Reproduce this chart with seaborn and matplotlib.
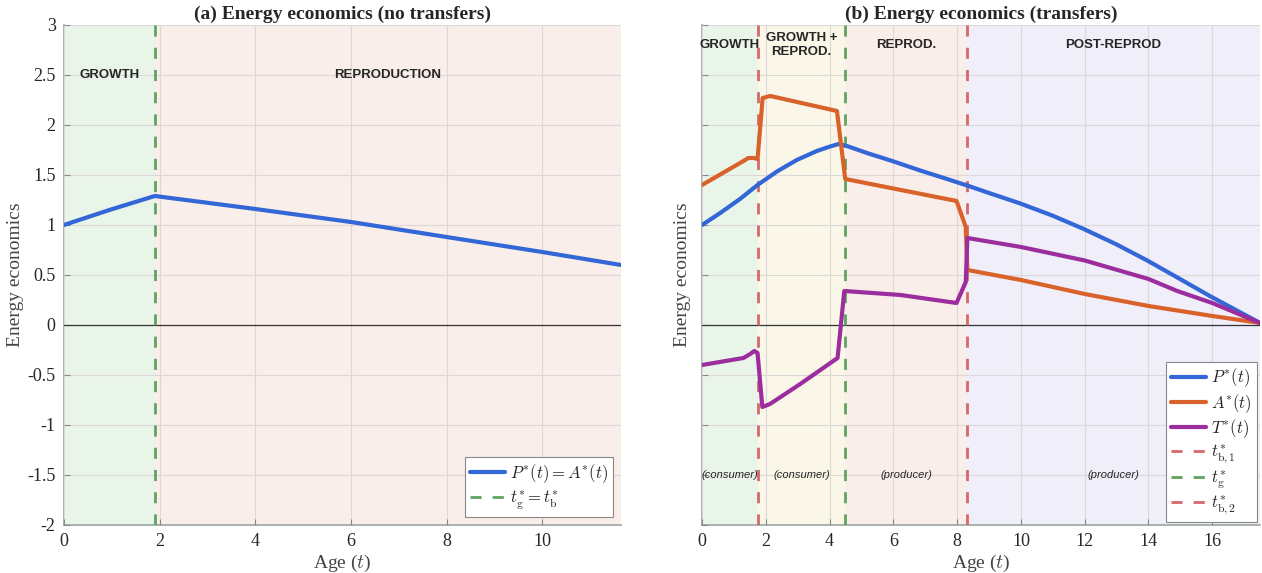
import numpy as np
import pandas as pd
import matplotlib
matplotlib.use('Agg')
import matplotlib.pyplot as plt
import seaborn as sns

# --- data ---
# (a) no transfers: P*(t) = A*(t)
t_left = [0.0, 0.95, 1.9, 4.0, 6.0, 8.0, 10.0, 11.65]
p_left = [1.00, 1.15, 1.29, 1.16, 1.03, 0.88, 0.73, 0.60]
tg_left = 1.9
xmax_left = 11.65

# (b) transfers
t_p = [0.0, 0.57, 1.19, 1.74, 2.35, 2.97, 3.60, 4.02, 4.28, 4.54, 5.17, 6.01, 6.84, 7.68,
       8.31, 9.0, 9.98, 10.98, 11.97, 12.97, 13.96, 14.96, 15.95, 17.5]
p_vals = [1.00, 1.12, 1.26, 1.40, 1.535, 1.65, 1.74, 1.785, 1.81, 1.79, 1.72, 1.635, 1.545, 1.46,
          1.395, 1.32, 1.215, 1.095, 0.96, 0.81, 0.645, 0.465, 0.285, 0.02]

t_a = [0.0, 1.30, 1.45, 1.63, 1.74, 1.90, 2.14, 4.23, 4.49, 7.98, 8.27, 8.32, 10.0, 12.0, 14.0, 16.0, 17.5]
a_vals = [1.40, 1.64, 1.67, 1.67, 1.66, 2.27, 2.29, 2.14, 1.46, 1.24, 0.98, 0.55, 0.45, 0.31, 0.19, 0.09, 0.02]

t_t = [0.0, 1.30, 1.51, 1.64, 1.74, 1.89, 2.13, 3.08, 4.25, 4.46, 6.22, 7.98, 8.27, 8.32,
       10.0, 12.0, 14.0, 14.9, 16.0, 17.5]
t_vals = [-0.40, -0.33, -0.29, -0.26, -0.28, -0.82, -0.79, -0.59, -0.33, 0.34, 0.30, 0.22, 0.43, 0.87,
          0.78, 0.645, 0.46, 0.34, 0.22, 0.02]

tb1, tg, tb2 = 1.74, 4.49, 8.31
xmax_right = 17.5

phase_right = ['GROWTH', 'GROWTH +\nREPROD.', 'REPROD.', 'POST-REPROD']
role_right = ['(consumer)', '(consumer)', '(producer)', '(producer)']

# colours
c_blue = '#3366d6'
c_orange = '#d9622b'
c_purple = '#9b2d9e'
c_red = '#d4686b'
c_green = '#5fa35f'
bg_green = '#eaf5ea'
bg_pink = '#faeeea'
bg_yellow = '#faf7e8'
bg_violet = '#f0eef9'

sns.set_theme(style='ticks')
plt.rcParams['font.family'] = ['Liberation Serif', 'DejaVu Serif']
plt.rcParams['mathtext.fontset'] = 'cm'

fig = plt.figure(figsize=(12.62, 5.73), dpi=100)
ax1 = fig.add_axes([0.0507, 0.0838, 0.4414, 0.8726])
ax2 = fig.add_axes([0.5563, 0.0838, 0.4422, 0.8726])


def style_axes(ax, xmax, show_ylabels):
    ax.set_xlim(0, xmax)
    ax.set_ylim(-2, 3)
    ax.set_yticks(np.arange(-2, 3.01, 0.5))
    if show_ylabels:
        ax.set_yticklabels(['-2', '-1.5', '-1', '-0.5', '0', '0.5', '1', '1.5', '2', '2.5', '3'])
    else:
        ax.set_yticklabels([])
    ax.grid(True, color='#ddd8d8', lw=0.8, zorder=1)
    ax.set_axisbelow(False)
    for s in ['top', 'right']:
        ax.spines[s].set_visible(False)
    for s in ['left', 'bottom']:
        ax.spines[s].set_color('#9aa5a0')
        ax.spines[s].set_linewidth(1.2)
    ax.tick_params(direction='in', length=4, width=0.8, color='#888888',
                   labelsize=13, pad=6)
    ax.axhline(0, color='#333333', lw=0.9, zorder=3)
    ax.set_xlabel('Age ($t$)', fontsize=14, color='#444444', labelpad=2)
    ax.set_ylabel('Energy economics', fontsize=14, color='#444444', labelpad=2)


# ---------- (a) ----------
ax1.axvspan(0, tg_left, color=bg_green, lw=0, zorder=0)
ax1.axvspan(tg_left, xmax_left, color=bg_pink, lw=0, zorder=0)
style_axes(ax1, xmax_left, True)
ax1.set_xticks([0, 2, 4, 6, 8, 10])
sns.lineplot(x=t_left, y=p_left, estimator=None, sort=False, color=c_blue, lw=3,
             ax=ax1, label=r'$P^{*}(t) = A^{*}(t)$', zorder=5)
ax1.axvline(tg_left, color=c_green, lw=2, ls=(0, (4, 4)), zorder=4,
            label=r'$t^{*}_{\rm g} = t^{*}_{\rm b}$')
ax1.text(tg_left / 2, 2.5, 'GROWTH', ha='center', va='center', fontsize=9.5,
         fontweight='bold', family='Liberation Sans')
ax1.text((tg_left + xmax_left) / 2, 2.5, 'REPRODUCTION', ha='center', va='center',
         fontsize=9.5, fontweight='bold', family='Liberation Sans')
ax1.set_title('(a) Energy economics (no transfers)', fontsize=14, fontweight='bold', pad=4)
leg1 = ax1.legend(loc='lower right', fontsize=12, frameon=True, fancybox=False,
                  edgecolor='#888888', framealpha=1, borderaxespad=0.5,
                  handlelength=2.1, handletextpad=0.3, borderpad=0.3, labelspacing=0.2)
leg1.get_frame().set_linewidth(0.8)

# ---------- (b) ----------
bounds = [0, tb1, tg, tb2, xmax_right]
for lo, hi, c in zip(bounds[:-1], bounds[1:], [bg_green, bg_yellow, bg_pink, bg_violet]):
    ax2.axvspan(lo, hi, color=c, lw=0, zorder=0)
style_axes(ax2, xmax_right, False)
ax2.set_xticks(np.arange(0, 17, 2))
sns.lineplot(x=t_p, y=p_vals, estimator=None, sort=False, color=c_blue, lw=3,
             ax=ax2, label=r'$P^{*}(t)$', zorder=5)
sns.lineplot(x=t_a, y=a_vals, estimator=None, sort=False, color=c_orange, lw=3,
             ax=ax2, label=r'$A^{*}(t)$', zorder=5)
sns.lineplot(x=t_t, y=t_vals, estimator=None, sort=False, color=c_purple, lw=3,
             ax=ax2, label=r'$T^{*}(t)$', zorder=5)
ax2.axvline(tb1, color=c_red, lw=2, ls=(0, (4, 4)), zorder=4, label=r'$t^{*}_{\rm b,1}$')
ax2.axvline(tg, color=c_green, lw=2, ls=(0, (4, 4)), zorder=4, label=r'$t^{*}_{\rm g}$')
ax2.axvline(tb2, color=c_red, lw=2, ls=(0, (4, 4)), zorder=4, label=r'$t^{*}_{\rm b,2}$')
for lo, hi, name, role in zip(bounds[:-1], bounds[1:], phase_right, role_right):
    ax2.text((lo + hi) / 2, 2.8, name, ha='center', va='center', fontsize=9.5,
             fontweight='bold', family='Liberation Sans', linespacing=1.3)
    ax2.text((lo + hi) / 2, -1.5, role, ha='center', va='center', fontsize=8,
             style='italic', family='Liberation Sans')
ax2.set_title('(b) Energy economics (transfers)', fontsize=14, fontweight='bold', pad=4)
leg2 = ax2.legend(loc='lower right', fontsize=12, frameon=True, fancybox=False,
                  edgecolor='#888888', framealpha=1, borderaxespad=0.2,
                  handlelength=2.1, handletextpad=0.3, borderpad=0.3, labelspacing=0.15)
leg2.get_frame().set_linewidth(0.8)

fig.savefig('out.png', dpi=100)
